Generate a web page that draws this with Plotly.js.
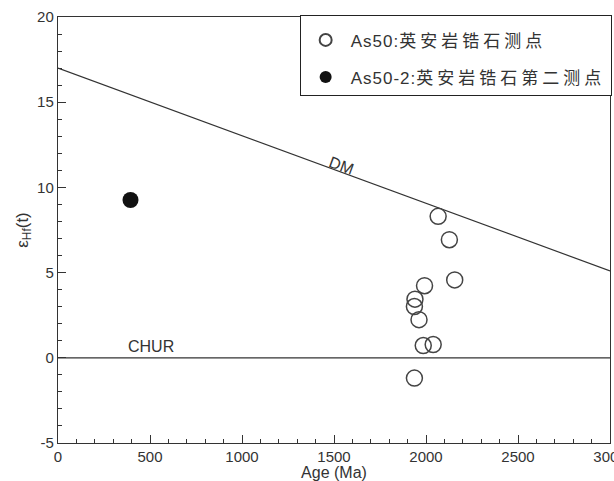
<!DOCTYPE html>
<html><head><meta charset="utf-8">
<script src="https://cdn.plot.ly/plotly-3.0.1.min.js"></script>
<style>html,body{margin:0;padding:0;background:#fff}
.legendtext{letter-spacing:1px}</style>
</head><body><div id="chart" style="width:614px;height:481px"></div>
<script>
// As50 zircon analyses (open circles)
const as50Age = [2066, 2127, 2156, 1992, 1940, 1937, 1962, 1985, 2039, 1937];
const as50Eps = [8.30, 6.93, 4.57, 4.23, 3.44, 3.01, 2.24, 0.72, 0.78, -1.19];
// As50-2 zircon analysis (filled circle)
const as502Age = [394];
const as502Eps = [9.26];
// Reference lines
const dmAge = [0, 3000];
const dmEps = [17.0, 5.1];
const churAge = [0, 3000];
const churEps = [0, 0];
// Legend labels: sample code + description
const legendCodes = ['As50:', 'As50-2:'];
const legendDescs = ['英安岩锆石测点', '英安岩锆石第二测点'];
// Tick labels
const xTickVals = [0, 500, 1000, 1500, 2000, 2500, 3000];
const xTickText = ['0', '500', '1000', '1500', '2000', '2500', '3000'];
const yTickVals = [-5, 0, 5, 10, 15, 20];
const yTickText = ['-5', '0', '5', '10', '15', '20'];

const legendName = i => legendCodes[i] + '<span style="letter-spacing:4px">' + legendDescs[i] + '</span>';

const font = 'Liberation Sans, Arial, sans-serif';
const ink = '#333';

const traces = [
  {x: dmAge, y: dmEps, mode: 'lines', line: {color: ink, width: 1.2}, showlegend: false, hoverinfo: 'skip'},
  {x: churAge, y: churEps, mode: 'lines', line: {color: ink, width: 1.2}, showlegend: false, hoverinfo: 'skip'},
  {x: as50Age, y: as50Eps, mode: 'markers', name: legendName(0), legendgroup: 'a',
   marker: {symbol: 'circle-open', size: 16, color: '#444', line: {width: 1.5}}},
  {x: as502Age, y: as502Eps, mode: 'markers', name: legendName(1), legendgroup: 'b',
   marker: {symbol: 'circle', size: 16, color: '#111'}}
];

const layout = {
  width: 614, height: 481,
  margin: {l: 58, r: 2, t: 17, b: 38},
  paper_bgcolor: '#fff', plot_bgcolor: '#fff',
  font: {family: font, color: ink, size: 15},
  showlegend: true,
  legend: {x: 1.003, y: 1.005, xanchor: 'right', yanchor: 'top', bgcolor: '#fff',
    bordercolor: '#222', borderwidth: 1, itemsizing: 'constant',
    traceorder: 'grouped', tracegroupgap: 12,
    title: {text: ' ', font: {size: 5}},
    font: {family: 'Liberation Sans, Noto Sans CJK SC, sans-serif', size: 17, color: '#333'},
    itemwidth: 40},
  xaxis: {range: [0, 3000], tickvals: xTickVals, ticktext: xTickText, ticks: 'inside', ticklen: 8, tickwidth: 1, tickcolor: ink,
    showline: true, linecolor: ink, linewidth: 1.2, mirror: true, showgrid: false, zeroline: false,
    ticklabeloverflow: 'allow',
    minor: {dtick: 100, tick0: 0, ticks: 'inside', ticklen: 4, tickcolor: ink, showgrid: false},
    tickfont: {size: 15}, title: {text: 'Age (Ma)', font: {size: 16}, standoff: 0}},
  yaxis: {range: [-5, 20], tickvals: yTickVals, ticktext: yTickText, ticks: 'inside', ticklen: 8, tickwidth: 1, tickcolor: ink,
    showline: true, linecolor: ink, linewidth: 1.2, mirror: true, showgrid: false, zeroline: false,
    minor: {dtick: 1, tick0: 0, ticks: 'inside', ticklen: 4, tickcolor: ink, showgrid: false},
    tickfont: {size: 15}, title: {text: 'ε<sub>Hf</sub>(t)', font: {size: 17}, standoff: 4}},
  annotations: [
    {x: 1539, y: 11.3, text: 'DM', showarrow: false, textangle: 20, font: {size: 16, color: ink}},
    {x: 508, y: 0, text: 'CHUR', showarrow: false, yanchor: 'bottom', yshift: 1, font: {size: 16, color: ink}}
  ]
};

Plotly.newPlot('chart', traces, layout, {displayModeBar: false, staticPlot: true});
</script></body></html>
